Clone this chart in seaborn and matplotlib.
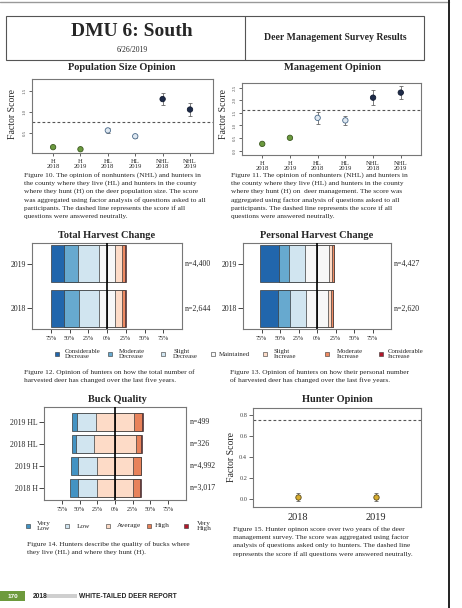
import numpy as np
import pandas as pd
import matplotlib
matplotlib.use("Agg")
import matplotlib.pyplot as plt
import matplotlib.transforms as mtrans
from matplotlib.patches import Rectangle
import seaborn as sns

W, H = 462, 608

# ---------------- data ----------------
groups = ["H\n2018", "H\n2019", "HL\n2018", "HL\n2019", "NHL\n2018", "NHL\n2019"]
group_kind = ["H", "H", "HL", "HL", "NHL", "NHL"]
pop_score = [0.16, 0.11, 0.56, 0.42, 1.31, 1.06]
pop_err = [0.02, 0.02, 0.05, 0.04, 0.15, 0.15]
pop_neutral = 0.75
pop_ticks = [0.5, 1.0, 1.5]
mgmt_score = [0.27, 0.51, 1.30, 1.20, 2.10, 2.30]
mgmt_err = [0.05, 0.04, 0.24, 0.19, 0.29, 0.27]
mgmt_neutral = 1.63
mgmt_ticks = [0.0, 0.5, 1.0, 1.5, 2.0, 2.5]

harvest_years = ["2019", "2018"]
change_levels = ["Considerable\nDecrease", "Moderate\nDecrease", "Slight\nDecrease", "Maintained",
                 "Slight\nIncrease", "Moderate\nIncrease", "Considerable\nIncrease"]
total_2019 = [17.0, 19.2, 27.7, 21.9, 9.3, 3.6, 0.9]
total_2018 = [17.0, 20.5, 26.4, 22.2, 8.9, 3.6, 1.3]
total_n = ["n=4,400", "n=2,644"]
personal_2019 = [24.4, 14.2, 21.8, 32.0, 4.9, 1.8, 0.8]
personal_2018 = [24.4, 16.8, 21.3, 30.0, 4.0, 2.7, 0.5]
personal_n = ["n=4,427", "n=2,620"]

buck_groups = ["2019 HL", "2018 HL", "2019 H", "2018 H"]
buck_levels = ["Very\nLow", "Low", "Average", "High", "Very\nHigh"]
buck_2019_HL = [6.0, 26.8, 54.7, 11.1, 0.9]
buck_2018_HL = [6.0, 25.9, 58.3, 7.4, 1.9]
buck_2019_H = [9.7, 27.3, 51.0, 11.1, 0.5]
buck_2018_H = [10.6, 27.3, 51.0, 9.2, 2.3]
buck_n = ["n=499", "n=326", "n=4,992", "n=3,017"]

hunter_years = ["2018", "2019"]
hunter_score = [0.02, 0.02]
hunter_err = [0.04, 0.04]
hunter_neutral = 0.758
hunter_ticks = [0.0, 0.2, 0.4, 0.6, 0.8]

pct_ticks = [-75, -50, -25, 0, 25, 50, 75]
pct_labels = ["75%", "50%", "25%", "0%", "25%", "50%", "75%"]

# ---------------- style ----------------
sns.set_theme(style="white")
plt.rcParams["font.family"] = ["Liberation Serif", "DejaVu Serif"]

change_colors = ["#2166ac", "#67a9cf", "#d1e5f0", "#f7f7f7", "#fddbc7", "#ef8a62", "#b2182b"]
buck_colors = ["#4393c3", "#d1e5f0", "#fddbc7", "#e8825a", "#b2182b"]
kind_fill = {"H": "#6b9a3e", "HL": "#dfe8f1", "NHL": "#1f2c4a"}
kind_edge = {"H": "#3d5a22", "HL": "#4a6a8a", "NHL": "#111a30"}
SPINE = "#777777"

fig = plt.figure(figsize=(W / 100, H / 100), dpi=100)


def box(l, t, r, b):
    return [l / W, 1 - b / H, (r - l) / W, (b - t) / H]


pa = fig.add_axes([0, 0, 1, 1])
pa.set_xlim(0, W)
pa.set_ylim(H, 0)
pa.axis("off")


def style_spines(ax):
    for s in ax.spines.values():
        s.set_visible(True)
        s.set_color(SPINE)
        s.set_linewidth(0.8)


# ---------------- page furniture ----------------
pa.plot([0, 449], [2, 2], color="#999999", lw=1.0)
pa.plot([448.5, 448.5], [0, H], color="#222222", lw=1.4)
pa.add_patch(Rectangle((6, 16), 418, 44, fill=False, ec="#555555", lw=0.8))
pa.plot([245, 245], [16, 60], color="#555555", lw=0.8)
pa.text(132, 31, "DMU 6: South", fontsize=14, weight="bold", ha="center", va="center")
pa.text(132, 50, "6/26/2019", fontsize=5.5, ha="center", va="center")
pa.text(335, 38, "Deer Management Survey Results", fontsize=7, weight="bold", ha="center", va="center")

TITLE_FS = 7.5


def caption(x, y0, lines, dy=8.3):
    for i, ln in enumerate(lines):
        pa.text(x, y0 + i * dy, ln, fontsize=5.35, ha="left", va="center")


# ---------------- dot plots ----------------
def dotplot(ax, vals, errs, neutral, ticks, ylim, xlim):
    df = pd.DataFrame({"g": groups, "k": group_kind, "v": vals, "e": errs})
    sns.scatterplot(data=df, x="g", y="v", hue="k", palette=kind_fill, s=15,
                    edgecolor=[kind_edge[k] for k in group_kind], linewidth=0.6,
                    legend=False, ax=ax, zorder=3)
    ax.errorbar(groups, vals, yerr=errs, fmt="none", ecolor="#666666",
                elinewidth=0.6, capsize=1.3, capthick=0.6, zorder=2)
    ax.axhline(neutral, color="#555555", lw=0.8, ls=(0, (2.5, 2)))
    ax.set_ylim(*ylim)
    ax.set_xlim(*xlim)
    ax.set_yticks(ticks)
    ax.set_yticklabels([f"{t:.1f}" for t in ticks], rotation=90, va="center", fontsize=3.5, color="#555555")
    ax.tick_params(axis="both", length=2.5, width=0.5, direction="out", pad=1.5, left=True, bottom=True)
    ax.tick_params(axis="x", labelsize=4.8, pad=1.5)
    ax.set_xlabel("")
    ax.set_ylabel("")
    style_spines(ax)


ax1 = fig.add_axes(box(32, 79, 213, 153))
dotplot(ax1, pop_score, pop_err, pop_neutral, pop_ticks, (0.02, 1.79), (-0.77, 5.84))
pa.text(122, 68, "Population Size Opinion", fontsize=TITLE_FS, weight="bold", ha="center", va="center")
pa.text(12.5, 114, "Factor Score", fontsize=7, rotation=90, ha="center", va="center")
caption(24, 175, ["Figure 10. The opinion of nonhunters (NHL) and hunters in",
                  "the county where they live (HL) and hunters in the county",
                  "where they hunt (H) on the deer population size. The score",
                  "was aggregated using factor analysis of questions asked to all",
                  "participants. The dashed line represents the score if all",
                  "questions were answered neutrally."])

ax2 = fig.add_axes(box(242, 83, 421, 155))
dotplot(ax2, mgmt_score, mgmt_err, mgmt_neutral, mgmt_ticks, (-0.17, 2.68), (-0.73, 5.73))
pa.text(332, 68, "Management Opinion", fontsize=TITLE_FS, weight="bold", ha="center", va="center")
pa.text(224, 114, "Factor Score", fontsize=7, rotation=90, ha="center", va="center")
caption(231, 175, ["Figure 11. The opinion of nonhunters (NHL) and hunters in",
                   "the county where they live (HL) and hunters in the county",
                   "where they hunt (H) on  deer management. The score was",
                   "aggregated using factor analysis of questions asked to all",
                   "participants. The dashed line represents the score if all",
                   "questions were answered neutrally."])


# ---------------- likert bars ----------------
def likert(ax, rows, data, colors, center, nlabels, ylim, nx):
    data = np.array(data, dtype=float)
    n, k = data.shape
    lefts = -(data[:, :center].sum(1) + data[:, center] / 2)
    edges = lefts[:, None] + np.concatenate([np.zeros((n, 1)), np.cumsum(data, 1)], 1)
    draws = []
    for i in range(center):
        draws.append((edges[:, i], colors[i]))
    draws.append((edges[:, center], colors[center]))
    for j in range(k - 1, center - 1, -1):
        draws.append((edges[:, j + 1], colors[j]))
    for vals, col in draws:
        sns.barplot(x=list(vals), y=rows, orient="h", color=col, saturation=1,
                    width=0.82, edgecolor="#3a3a3a", linewidth=0.5, ax=ax)
    ax.axvline(0, color="black", lw=1.2, zorder=5)
    ax.set_xlim(-100, 100)
    ax.set_ylim(*ylim)
    ax.set_xticks(pct_ticks)
    ax.set_xticklabels(pct_labels, fontsize=4.3)
    ax.tick_params(axis="y", labelsize=5.6, length=3.5, width=0.6, pad=1, left=True)
    ax.tick_params(axis="x", length=3, width=0.6, pad=2, bottom=True)
    ax.set_xlabel("")
    ax.set_ylabel("")
    style_spines(ax)
    tr = mtrans.blended_transform_factory(ax.transAxes, ax.transData)
    for i, lab in enumerate(nlabels):
        ax.text(nx, i, lab, transform=tr, fontsize=5.7, ha="left", va="center")


ax3 = fig.add_axes(box(32, 243, 182, 329))
likert(ax3, harvest_years, [total_2019, total_2018], change_colors, 3, total_n, (1.46, -0.46), 1.02)
pa.text(107, 235, "Total Harvest Change", fontsize=TITLE_FS, weight="bold", ha="center", va="center")

ax4 = fig.add_axes(box(243, 243, 391, 329))
likert(ax4, harvest_years, [personal_2019, personal_2018], change_colors, 3, personal_n, (1.46, -0.46), 1.02)
pa.text(317, 235, "Personal Harvest Change", fontsize=TITLE_FS, weight="bold", ha="center", va="center")


def legend_row(y, sq_x, tx_x, labels, colors, fs=4.9):
    for sx, tx, lab, col in zip(sq_x, tx_x, labels, colors):
        pa.scatter([sx], [y], marker="s", s=12, c=col, edgecolors="#333333", linewidths=0.4)
        pa.text(tx, y, lab, fontsize=fs, ha="left", va="center", linespacing=0.95)


legend_row(354, [57, 110, 163, 213, 265, 327, 381], [65, 119, 173, 219, 274, 337, 388],
           change_levels, change_colors)
caption(24, 372, ["Figure 12. Opinion of hunters on how the total number of",
                  "harvested deer has changed over the last five years."])
caption(230, 372, ["Figure 13. Opinion of hunters on how their personal number",
                   "of harvested deer has changed over the last five years."])

ax5 = fig.add_axes(box(44, 407, 186, 500))
likert(ax5, buck_groups, [buck_2019_HL, buck_2018_HL, buck_2019_H, buck_2018_H],
       buck_colors, 2, buck_n, (3.53, -0.68), 1.03)
pa.text(117, 400, "Buck Quality", fontsize=TITLE_FS, weight="bold", ha="center", va="center")
legend_row(526, [28, 67, 108, 149, 186], [37, 77, 117, 155, 197], buck_levels, buck_colors, fs=5.2)
caption(27, 544, ["Figure 14. Hunters describe the quality of bucks where",
                  "they live (HL) and where they hunt (H)."])

# ---------------- hunter opinion ----------------
ax6 = fig.add_axes(box(253, 408, 421, 507))
hdf = pd.DataFrame({"year": hunter_years, "score": hunter_score})
sns.scatterplot(data=hdf, x="year", y="score", color="#d8ad2e", edgecolor="#5a4a1a",
                linewidth=0.6, s=15, ax=ax6, zorder=3, legend=False)
ax6.errorbar(hunter_years, hunter_score, yerr=hunter_err, fmt="none", ecolor="#666666",
             elinewidth=0.6, capsize=1.3, capthick=0.6, zorder=2)
ax6.axhline(hunter_neutral, color="#555555", lw=0.8, ls=(0, (2.5, 2)))
ax6.set_xlim(-0.58, 1.58)
ax6.set_ylim(-0.074, 0.87)
ax6.set_yticks(hunter_ticks)
ax6.set_yticklabels([f"{t:.1f}" for t in hunter_ticks], fontsize=4.6, color="#444444")
ax6.tick_params(axis="y", length=3, width=0.5, pad=1.2, left=True)
ax6.tick_params(axis="x", length=0, labelsize=7.4, pad=4)
ax6.set_xlabel("")
ax6.set_ylabel("")
style_spines(ax6)
pa.text(337, 400, "Hunter Opinion", fontsize=TITLE_FS, weight="bold", ha="center", va="center")
pa.text(231, 457, "Factor Score", fontsize=7, rotation=90, ha="center", va="center")
caption(233, 529, ["Figure 15. Hunter opinon score over two years of the deer",
                   "management survey. The score was aggregated using factor",
                   "analysis of questions asked only to hunters. The dashed line",
                   "represents the score if all questions were answered neutrally."])

# ---------------- footer ----------------
pa.add_patch(Rectangle((0, 591), 25, 10, color="#6d9a3c", lw=0))
pa.text(12.5, 596, "170", fontsize=4.6, weight="bold", color="white", ha="center", va="center",
        family=["Liberation Sans", "DejaVu Sans"])
pa.text(33, 596, "2018", fontsize=4.8, weight="bold", color="#222222", ha="left", va="center",
        family=["Liberation Sans", "DejaVu Sans"])
pa.add_patch(Rectangle((46, 594), 31, 4, color="#cfcfcf", lw=0))
pa.text(79, 596, "WHITE-TAILED DEER REPORT", fontsize=4.8, weight="bold", color="#222222",
        ha="left", va="center", family=["Liberation Sans", "DejaVu Sans"])

fig.savefig("out.png", dpi=100, facecolor="white")
